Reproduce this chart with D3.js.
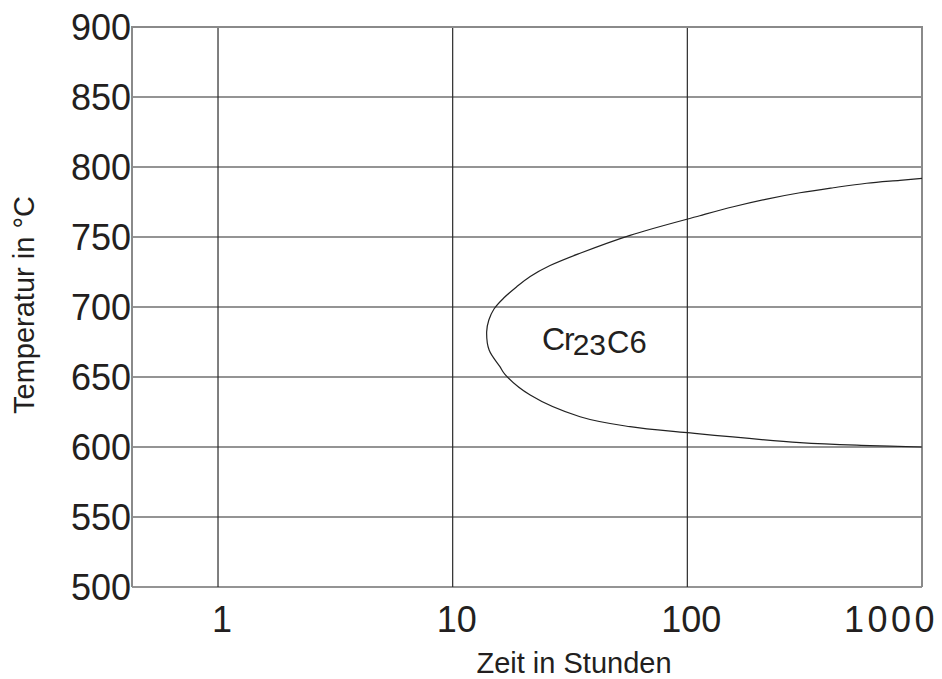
<!DOCTYPE html>
<html>
<head>
<meta charset="utf-8">
<script src="https://cdn.jsdelivr.net/npm/d3@7/dist/d3.min.js"></script>
<style>
  html, body { margin: 0; padding: 0; background: #fff; }
  svg { display: block; font-family: "Liberation Sans", Arial, sans-serif; }
</style>
</head>
<body>
<svg id="chart" width="942" height="679"></svg>
<script>
// ---- data ----
const xTicks = [1, 10, 100, 1000];
const xTickLabels = ["1", "10", "100", "1000"];
const yTicks = [500, 550, 600, 650, 700, 750, 800, 850, 900];
const yTickLabels = ["500", "550", "600", "650", "700", "750", "800", "850", "900"];
// C-curve of Cr23C6 precipitation (hours, °C), traced from upper right via the nose to lower right
const curveTime = [1000, 805, 581, 419, 302, 218, 157, 113, 57, 34.9, 26.0, 21.4, 18.7, 16.5, 15.0, 14.26, 13.96,
                   14.3, 15.9, 16.7, 21.4, 34.9, 57, 100, 302, 600, 1000];
const curveTemp = [791.9, 790.5, 788.4, 785.2, 781.6, 777.1, 771.6, 765.2, 751.2, 738.4, 729.6, 721.8, 714.3, 706.4, 698.6, 690.7, 682.4,
                   669.3, 657.4, 651.9, 637.1, 621.6, 614.5, 610.2, 603.1, 601, 600];
const phaseLabel = { time: 24, temp: 669.3, main: "Cr", sub: "23", tail: "C6" };
const xTitle = "Zeit in Stunden";
const yTitle = "Temperatur in °C";

// ---- layout ----
const svg = d3.select("#chart");
const mLeft = 132, mRight = 922, mTop = 27, mBottom = 587;
const x = d3.scaleLog().domain([0.43, 1000]).range([mLeft, mRight]);
const y = d3.scaleLinear().domain([500, 900]).range([mBottom, mTop]);
const ink = "#231f20";

// grid
const g = svg.append("g");
g.selectAll("line.h").data(yTicks.filter(d => d < 900)).enter().append("line")
  .attr("x1", mLeft).attr("x2", mRight)
  .attr("y1", d => y(d)).attr("y2", d => y(d))
  .attr("stroke", "#2a2a2a").attr("stroke-width", 1.2);
g.selectAll("line.v").data(xTicks.filter(d => d < 1000)).enter().append("line")
  .attr("x1", d => x(d)).attr("x2", d => x(d))
  .attr("y1", mTop).attr("y2", mBottom)
  .attr("stroke", "#2a2a2a").attr("stroke-width", 1.2);

// frame (left, top, right in gray)
g.append("path")
  .attr("d", `M${mLeft},${mBottom}V${mTop}H${mRight}V${mBottom}`)
  .attr("fill", "none").attr("stroke", "#8a8a8a").attr("stroke-width", 2);

// curve
const pts = curveTime.map((t, i) => [t, curveTemp[i]]);
svg.append("path")
  .datum(pts)
  .attr("d", d3.line().x(d => x(d[0])).y(d => y(d[1])).curve(d3.curveCatmullRom.alpha(0.5)))
  .attr("fill", "none").attr("stroke", "#222").attr("stroke-width", 1.2);

// y tick labels
svg.selectAll("text.yt").data(yTicks).enter().append("text")
  .attr("x", mLeft - 1).attr("y", d => y(d)).attr("dy", "0.36em")
  .attr("text-anchor", "end").attr("font-size", 36).attr("fill", ink)
  .text((d, i) => yTickLabels[i]);

// x tick labels
const lastIdx = xTicks.length - 1;
svg.selectAll("text.xt").data(xTicks).enter().append("text")
  .attr("x", (d, i) => i === lastIdx ? x(d) - 78 : x(d) + 4)
  .attr("y", 632)
  .attr("text-anchor", (d, i) => i === lastIdx ? "start" : "middle")
  .attr("letter-spacing", (d, i) => i === lastIdx ? "3.5px" : "0px")
  .attr("font-size", 36).attr("fill", ink)
  .text((d, i) => xTickLabels[i]);

// axis titles
svg.append("text").attr("x", 574).attr("y", 673).attr("text-anchor", "middle")
  .attr("font-size", 29).attr("fill", ink).text(xTitle);
svg.append("text").attr("transform", "translate(34,305) rotate(-90)")
  .attr("text-anchor", "middle").attr("font-size", 29).attr("fill", ink).text(yTitle);

// phase label
const lx = x(phaseLabel.time), ly = y(phaseLabel.temp);
const lt = svg.append("text").attr("x", lx).attr("y", ly).attr("fill", ink).attr("font-size", 32);
lt.append("tspan").attr("letter-spacing", "-1px").text(phaseLabel.main);
lt.append("tspan").attr("font-size", 30).attr("dy", 5).attr("dx", -1).text(phaseLabel.sub);
lt.append("tspan").attr("font-size", 31).attr("dy", -2).attr("dx", 1).text(phaseLabel.tail);
</script>
</body>
</html>
